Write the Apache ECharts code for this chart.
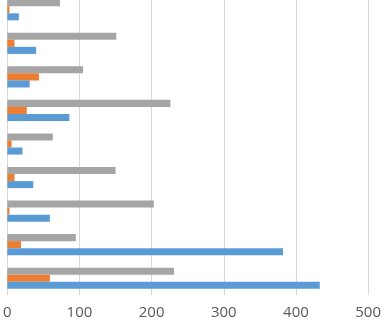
<!DOCTYPE html>
<html>
<head>
<meta charset="utf-8">
<script src="https://cdn.jsdelivr.net/npm/echarts@6/dist/echarts.min.js"></script>
<style>
  html, body { margin: 0; padding: 0; background: #fff; overflow: hidden; }
  /* the top group is clipped in the original, so the canvas starts a little above the page */
  #chart { width: 384px; height: 331px; margin-top: -7px; }
</style>
</head>
<body>
<div id="chart"></div>
<script>
// categories bottom -> top
var categories = ['1', '2', '3', '4', '5', '6', '7', '8', '9'];
var blueValues = [433, 382, 59, 36, 21, 86, 31, 40, 16];
var orangeValues = [59, 19, 3, 10, 6, 27, 44, 10, 3];
var grayValues = [231, 95, 203, 150, 63, 226, 105, 151, 73];
var xTicks = [0, 100, 200, 300, 400, 500];

var chart = echarts.init(document.getElementById('chart'));

// 三组横向柱
function barSeries(name, data, color) {
  return {
    name: name,
    type: 'bar',
    data: data,
    barGap: '0%',
    barCategoryGap: '37%',
    itemStyle: { color: color },
    silent: true
  };
}

chart.setOption({
  animation: false,
  grid: { left: 5, right: 14, top: 0, bottom: 29 },
  xAxis: {
    type: 'value',
    min: xTicks[0],
    max: xTicks[xTicks.length - 1],
    interval: 100,
    axisLine: { show: false },
    axisTick: { show: false },
    axisLabel: {
      color: '#595959',
      fontSize: 15,
      fontFamily: 'Open Sans',
      margin: 10
    },
    splitLine: { lineStyle: { color: '#d9d9d9', width: 1 } }
  },
  yAxis: {
    type: 'category',
    data: categories,
    axisLine: { show: true, lineStyle: { color: '#d9d9d9' } },
    axisTick: { show: false },
    axisLabel: { show: false }
  },
  // ECharts stacks a category's series top-down, so gray goes first
  series: [
    barSeries('gray', grayValues, '#a5a5a5'),
    barSeries('orange', orangeValues, '#ed7d31'),
    barSeries('blue', blueValues, '#5b9bd5')
  ]
});
</script>
</body>
</html>
